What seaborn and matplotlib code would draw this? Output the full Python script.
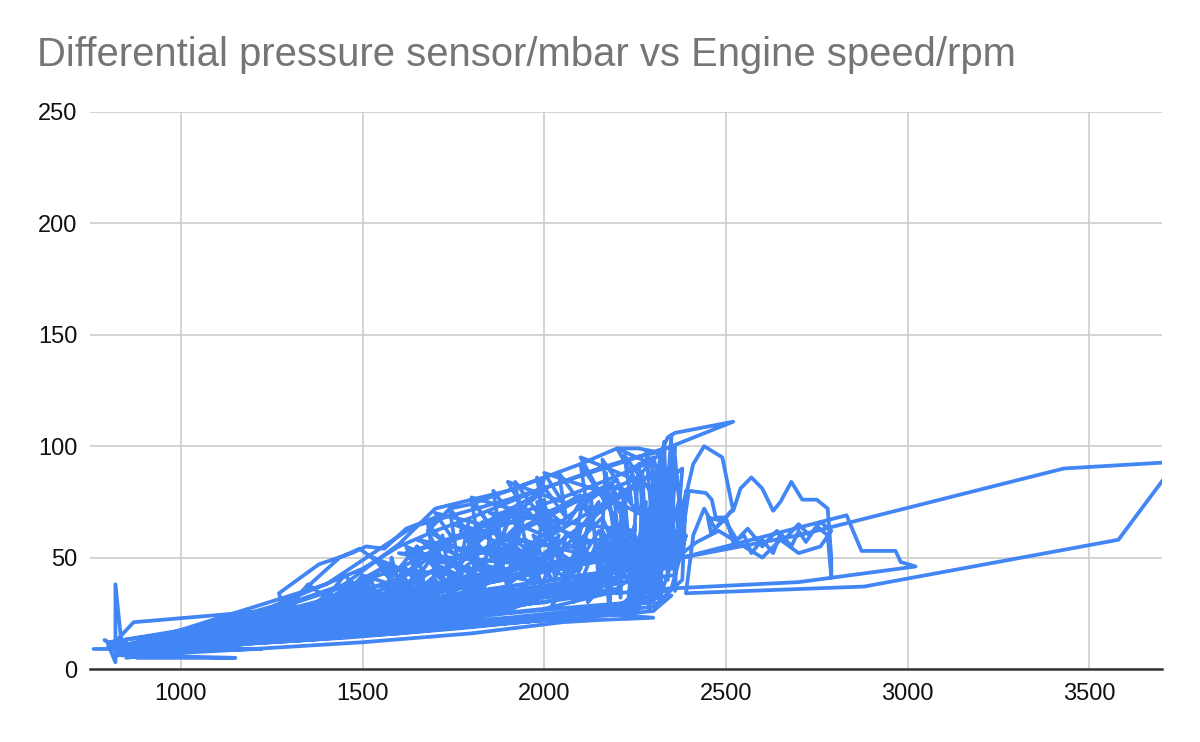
import numpy as np
import pandas as pd
import matplotlib
matplotlib.use("Agg")
import matplotlib.pyplot as plt
import seaborn as sns

# --- Données (trace temporelle, rpm / mbar) ---
trip_a_rpm  = [760, 820, 840, 820, 820, 800, 850, 880, 1150, 900, 830, 870, 1230, 960, 820, 790, 840]
trip_a_mbar = [9, 9, 6, 38, 3, 11, 7, 5, 5, 6, 14, 21, 26, 15, 10, 13, 8]

trip_b_rpm  = [840, 1100, 1280, 1270, 1380, 1470, 1510, 1560, 1600, 1620, 1700, 1680, 1740, 1800,
               1900, 2000, 1980, 2040, 1960, 1900, 1850, 1700, 1500, 1300, 1050, 880]
trip_b_mbar = [13, 20, 29, 34, 47, 52, 55, 54, 60, 63, 68, 62, 72, 74,
               80, 86, 70, 55, 45, 38, 30, 24, 19, 15, 11, 9]

trip_c_rpm  = [900, 1250, 1335, 1437, 1492, 1650, 1700, 1760, 1820, 1780, 1860, 1920, 1880, 1960, 2030,
               2000, 2080, 2150, 2120, 2200, 2260, 2240, 2300, 2330, 2320, 2280, 2200, 2050, 1800,
               1500, 1200, 950]
trip_c_mbar = [10, 18, 35, 50, 54, 35, 42, 38, 47, 52, 44, 56, 60, 50, 62,
               70, 58, 75, 64, 82, 70, 90, 95, 78, 50, 36, 28, 23, 19,
               15, 12, 8]

trip_d_rpm  = [870, 1150, 1400, 1550, 1600, 1680, 1640, 1720, 1780, 1740, 1820, 1880, 1850, 1930,
               1990, 1950, 2040, 2100, 2060, 2150, 2200, 2170, 2250, 2290, 2270, 2320, 2350, 2310,
               2250, 2100, 1900, 1650, 1350, 1050, 900]
trip_d_mbar = [7, 14, 22, 30, 36, 32, 40, 35, 44, 50, 40, 46, 55, 48,
               58, 45, 52, 62, 40, 55, 65, 38, 48, 72, 30, 60, 85, 42,
               28, 24, 21, 17, 13, 10, 7]

trip_e_rpm  = [820, 1000, 1300, 1450, 1500, 1580, 1560, 1650, 1700, 1660, 1760, 1800, 1770, 1860,
               1900, 1880, 1960, 2010, 1980, 2060, 2110, 2080, 2160, 2210, 2190, 2260, 2300, 2280,
               2340, 2360, 2350, 2380, 2320, 2200, 2000, 1750, 1450, 1150, 900]
trip_e_mbar = [9, 15, 25, 33, 42, 38, 47, 41, 52, 58, 45, 55, 62, 50,
               66, 57, 70, 60, 75, 64, 78, 55, 68, 48, 82, 40, 60, 98,
               70, 100, 45, 62, 33, 26, 22, 18, 14, 11, 8]

trip_f_rpm  = [950, 1200, 1450, 1600, 1700, 1900, 2100, 2200, 2260, 2320, 2340, 2360, 2520, 2320,
               2300, 2340, 2380, 2370, 2390, 2410, 2440, 2490, 2520, 2540, 2570, 2600, 2630, 2650,
               2680, 2710, 2750, 2780, 2790, 2790, 2780, 2750, 2720, 2700, 2680, 2650, 2630, 2600,
               2570, 2550, 2520, 2500, 2470, 2440, 2410, 2390, 2880, 3580, 3740, 3430, 2700, 2380]
trip_f_mbar = [15, 24, 38, 56, 72, 80, 92, 99, 99, 97, 104, 106, 111, 98,
               60, 85, 90, 70, 78, 92, 100, 95, 71, 81, 86, 81, 71, 75,
               84, 76, 76, 72, 50, 41, 60, 64, 57, 62, 55, 61, 52, 58,
               52, 60, 57, 68, 63, 72, 60, 34, 37, 58, 93, 90, 60, 50]

trip_g_rpm  = [900, 1200, 1500, 1800, 2050, 2200, 2330, 2700, 3022, 2981, 2967, 2873, 2832, 2380,
               2330, 2300, 2350, 2250, 2100, 1850, 1600, 1300, 1000, 850]
trip_g_mbar = [12, 20, 28, 33, 36, 34, 36, 39, 46, 48, 53, 53, 69, 50,
               66, 40, 75, 30, 24, 20, 16, 13, 9, 6]

trip_h_rpm  = [850, 1700, 1750, 1650, 1800, 1900, 1850, 1950, 2000, 1900, 1700, 1400, 1100, 860,
               1600, 1550, 1700, 1750, 1600, 1300, 1000, 820]
trip_h_mbar = [10, 35, 42, 30, 48, 40, 52, 58, 35, 28, 22, 18, 13, 8,
               40, 28, 45, 32, 25, 19, 12, 7]

trip_i_rpm  = [880, 1900, 1960, 2020, 1970, 2080, 2130, 2050, 2150, 2230, 2180, 2280, 2300, 2260,
               2200, 2000, 1700, 1350, 1100, 870]
trip_i_mbar = [11, 45, 52, 40, 60, 48, 66, 38, 55, 44, 72, 35, 80, 27,
               25, 23, 19, 15, 11, 9]

trip_j_rpm  = [830, 1450, 1500, 1420, 1550, 1600, 1530, 1650, 1620, 1720, 1680, 1780, 1830, 1760,
               1880, 1950, 1900, 1700, 1500, 1200, 950, 840]
trip_j_mbar = [8, 30, 38, 33, 45, 36, 50, 42, 55, 48, 62, 52, 66, 45,
               70, 72, 42, 30, 24, 17, 12, 10]

trip_k_rpm  = [860, 1200, 1500, 1800, 2050, 2150, 2300, 2150, 1900, 1600, 1300, 1085, 1222, 1000, 850]
trip_k_mbar = [6, 9, 12, 16, 21, 22, 23, 25, 22, 18, 14, 9, 9, 8, 5]

trip_l_rpm  = [900, 1800, 2200, 2250, 2230, 2280, 2270, 2310, 2300, 2330, 2320, 2350, 2340, 2360,
               2380, 2370, 2390, 2380, 2300, 2100, 1800, 1400, 1000, 850]
trip_l_mbar = [12, 30, 40, 65, 28, 75, 35, 88, 30, 95, 40, 105, 45, 90,
               70, 50, 80, 40, 28, 24, 20, 15, 10, 7]

trip_m_rpm  = [950, 1300, 1600, 1750, 1700, 1850, 1800, 1950, 1900, 2050, 2000, 2150, 2100, 2250,
               2200, 2350, 2300, 2100, 1800, 1500, 1200, 900]
trip_m_mbar = [13, 25, 40, 58, 70, 64, 77, 70, 84, 75, 88, 80, 95, 85,
               99, 88, 32, 26, 21, 17, 13, 9]

trip_n_rpm  = [880, 1350, 1420, 1380, 1480, 1530, 1470, 1580, 1640, 1590, 1690, 1740, 1690, 1790,
               1840, 1790, 1890, 1940, 1880, 1990, 2040, 1980, 1800, 1500, 1200, 900]
trip_n_mbar = [9, 22, 30, 26, 35, 28, 38, 31, 40, 34, 44, 37, 48, 40,
               50, 43, 53, 45, 57, 48, 60, 30, 24, 19, 14, 9]

trip_o_rpm  = [800, 1300, 1250, 1400, 1350, 1150, 1000, 840, 1500, 1450, 1100, 820]
trip_o_mbar = [12, 24, 18, 28, 20, 15, 12, 9, 32, 22, 16, 6]

trip_p_rpm  = [850, 1800, 1000, 2000, 1100, 2200, 1200, 2300, 1300, 2350, 1400, 2250, 1150, 1950, 900]
trip_p_mbar = [9, 38, 12, 45, 15, 50, 18, 55, 22, 48, 25, 42, 14, 35, 8]

trip_q_rpm  = [820, 1600, 1650, 1580, 1700, 1760, 1700, 1820, 1880, 1800, 1920, 1990, 1900, 2050,
               2100, 2020, 2150, 2200, 2120, 2250, 2280, 2200, 2000, 1700, 1300, 900]
trip_q_mbar = [7, 28, 36, 24, 40, 30, 46, 35, 50, 30, 54, 38, 60, 42,
               56, 28, 62, 45, 30, 58, 40, 26, 22, 18, 14, 9]

trip_r_rpm  = [880, 1300, 1600, 1900, 2100, 2250, 2350, 2300, 2100, 1850, 1550, 1250, 950, 1400,
               1700, 2000, 2200, 2000, 1700, 1400, 1100, 860]
trip_r_mbar = [10, 16, 20, 25, 28, 30, 33, 26, 23, 20, 16, 13, 9, 20,
               26, 30, 35, 27, 22, 17, 13, 8]

trip_s_rpm  = [900, 1250, 1500, 1600, 1700, 1800, 1950, 2050, 2150, 2250, 2330, 2300, 2250, 2100,
               1900, 1700, 1600, 1450, 1300, 1050, 880]
trip_s_mbar = [12, 28, 45, 55, 62, 68, 78, 84, 90, 95, 98, 60, 45, 40,
               35, 30, 27, 22, 18, 13, 9]

trip_t_rpm  = [950, 1400, 1640, 1900, 2200, 2330, 2250, 2000, 1750, 1620, 1800, 2100, 2280, 2340,
               2200, 1900, 1600, 1300, 1000]
trip_t_mbar = [15, 38, 64, 76, 92, 99, 85, 70, 58, 52, 62, 80, 92, 68,
               52, 45, 35, 24, 14]

trip_u_rpm  = [1000, 2000, 2150, 2160, 2180, 2190, 2210, 2220, 2240, 2250, 2260, 2270, 2290, 2300,
               2320, 2330, 2340, 2350, 2360, 2370, 2300, 2000, 1500, 1000]
trip_u_mbar = [12, 30, 35, 62, 25, 70, 32, 78, 27, 60, 33, 88, 26, 70,
               30, 92, 40, 98, 35, 75, 30, 24, 16, 9]

trip_v_rpm  = [900, 1500, 1520, 1560, 1580, 1620, 1650, 1680, 1720, 1750, 1790, 1820, 1860, 1900,
               1930, 1970, 2000, 2030, 2060, 1900, 1600, 1300, 950]
trip_v_mbar = [9, 20, 42, 22, 50, 25, 55, 28, 60, 30, 65, 32, 68, 35,
               72, 38, 76, 40, 60, 28, 20, 15, 10]

trip_w_rpm  = [850, 1100, 1350, 1500, 1450, 1650, 1600, 1850, 1800, 2050, 2000, 2250, 2200, 2380,
               2200, 1900, 1600, 1300, 1000, 850]
trip_w_mbar = [8, 14, 20, 28, 35, 32, 45, 40, 55, 45, 65, 50, 75, 60,
               36, 30, 24, 18, 12, 7]

trip_x_rpm  = [800, 1550, 840, 1750, 870, 1950, 900, 2150, 950, 2350, 1000, 1650, 820]
trip_x_mbar = [10, 25, 8, 30, 11, 33, 9, 38, 12, 42, 8, 22, 6]

trip_y_rpm  = [1100, 1900, 2050, 2100, 2080, 2140, 2180, 2160, 2230, 2260, 2240, 2300, 2330, 2310,
               2370, 2390, 2350, 2200, 1900, 1500, 1100, 880]
trip_y_mbar = [14, 26, 38, 48, 30, 55, 36, 62, 40, 52, 33, 58, 45, 65,
               50, 60, 36, 28, 23, 18, 13, 8]

trip_z_rpm  = [850, 1200, 1250, 1320, 1280, 1380, 1420, 1360, 1460, 1520, 1480, 1580, 1620, 1560,
               1660, 1500, 1300, 1100, 900]
trip_z_mbar = [9, 18, 26, 22, 30, 25, 36, 28, 33, 40, 30, 38, 45, 34,
               42, 24, 18, 13, 8]

trip_aa_rpm  = [2380, 2398, 2445, 2461, 2472, 2500, 2516, 2459, 2450, 2500, 2530, 2560, 2600, 2640,
                2660, 2700, 2730, 2760, 2790, 2760, 2700, 2650, 2600, 2540, 2480, 2420, 2380]
trip_aa_mbar = [60, 80, 79, 76, 68, 68, 71, 61, 68, 66, 58, 63, 55, 62,
                58, 65, 60, 66, 62, 55, 52, 58, 50, 56, 62, 57, 52]

trip_bb_rpm  = [1000, 1550, 1650, 1700, 1680, 1760, 1740, 1820, 1800, 1880, 1860, 1940, 1920, 2000,
                1980, 2060, 2040, 2120, 2100, 2180, 2160, 2240, 2220, 2300, 2280, 2200, 1900, 1500, 1100]
trip_bb_mbar = [14, 35, 55, 45, 65, 50, 72, 55, 76, 58, 80, 62, 84, 66,
                86, 68, 88, 70, 92, 72, 94, 75, 96, 78, 60, 40, 30, 20, 12]

trip_cc_rpm  = [1600, 2000, 1700, 2100, 1800, 2200, 1900, 2300, 2000, 2250, 1850, 2150, 1750, 2050,
                1650, 1950, 1600]
trip_cc_mbar = [45, 80, 42, 78, 50, 85, 48, 88, 52, 62, 70, 50, 65, 45,
                58, 40, 52]

trip_dd_rpm  = [2100, 2130, 2150, 2170, 2200, 2220, 2240, 2260, 2280, 2300, 2310, 2330, 2340, 2360, 2380]
trip_dd_mbar = [45, 75, 40, 88, 50, 80, 42, 92, 55, 85, 45, 102, 50, 95, 60]

trip_ee_rpm  = [900, 1300, 1350, 1400, 1450, 1500, 1550, 1600, 1650, 1550, 1450, 1350, 1250, 1000]
trip_ee_mbar = [10, 28, 38, 32, 42, 35, 45, 38, 48, 30, 25, 20, 16, 10]

X_TICKS = [1000, 1500, 2000, 2500, 3000, 3500]
Y_TICKS = [0, 50, 100, 150, 200, 250]
TITLE   = "Differential pressure sensor/mbar vs Engine speed/rpm"

# --- Assemblage dans l'ordre des trajets ---
trips = [
    (trip_a_rpm, trip_a_mbar), (trip_b_rpm, trip_b_mbar), (trip_x_rpm, trip_x_mbar),
    (trip_c_rpm, trip_c_mbar), (trip_r_rpm, trip_r_mbar), (trip_d_rpm, trip_d_mbar),
    (trip_z_rpm, trip_z_mbar), (trip_e_rpm, trip_e_mbar), (trip_p_rpm, trip_p_mbar),
    (trip_n_rpm, trip_n_mbar), (trip_s_rpm, trip_s_mbar), (trip_h_rpm, trip_h_mbar),
    (trip_ee_rpm, trip_ee_mbar), (trip_bb_rpm, trip_bb_mbar),
    (trip_q_rpm, trip_q_mbar), (trip_i_rpm, trip_i_mbar), (trip_v_rpm, trip_v_mbar),
    (trip_j_rpm, trip_j_mbar), (trip_t_rpm, trip_t_mbar), (trip_k_rpm, trip_k_mbar),
    (trip_cc_rpm, trip_cc_mbar), (trip_dd_rpm, trip_dd_mbar),
    (trip_w_rpm, trip_w_mbar), (trip_m_rpm, trip_m_mbar), (trip_u_rpm, trip_u_mbar),
    (trip_o_rpm, trip_o_mbar), (trip_y_rpm, trip_y_mbar), (trip_l_rpm, trip_l_mbar),
    (trip_g_rpm, trip_g_mbar), (trip_f_rpm, trip_f_mbar), (trip_aa_rpm, trip_aa_mbar),
]
rpm, mbar = [], []
for r, m in trips:
    assert len(r) == len(m)
    rpm.extend(r)
    mbar.extend(m)
df = pd.DataFrame({"rpm": rpm, "mbar": mbar})

# --- Style ---
sns.set_style("whitegrid", {"grid.color": "#cccccc"})
plt.rcParams["font.family"] = ["Liberation Sans", "DejaVu Sans"]

fig = plt.figure(figsize=(12, 7.42), dpi=100)
ax = fig.add_axes([90 / 1200, 73 / 742, 1072 / 1200, 557 / 742])

sns.lineplot(data=df, x="rpm", y="mbar", sort=False, estimator=None,
             color="#4285F4", linewidth=2.7, ax=ax)

ax.set_xlim(750, 3700)
ax.set_ylim(0, 250)
ax.set_xticks(X_TICKS)
ax.set_yticks(Y_TICKS)
ax.set_xlabel("")
ax.set_ylabel("")
ax.grid(True, color="#cccccc", linewidth=1.2)
for side in ["top", "right", "left"]:
    ax.spines[side].set_visible(False)
ax.spines["bottom"].set_color("#333333")
ax.spines["bottom"].set_linewidth(1.8)
ax.spines["bottom"].set_zorder(5)
ax.tick_params(axis="both", length=0, labelsize=17, colors="#111111")
ax.tick_params(axis="x", pad=10)
ax.tick_params(axis="y", pad=9)

fig.text(37 / 1200, 1 - 66 / 742, TITLE, fontsize=28.8, color="#757575",
         ha="left", va="baseline")

fig.savefig("out.png", dpi=100)
